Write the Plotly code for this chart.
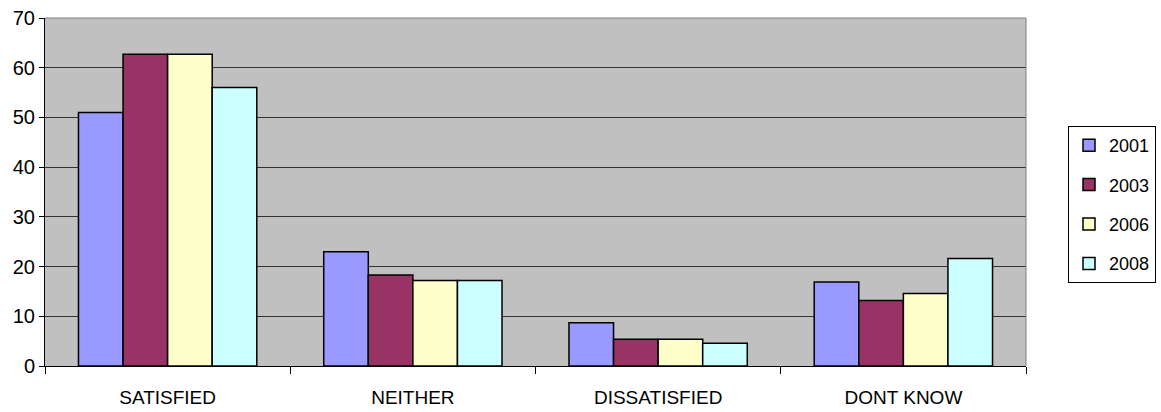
import plotly.graph_objects as go

# Survey responses (percent) by year
categories = ["SATISFIED", "NEITHER", "DISSATISFIED", "DONT KNOW"]
years = ["2001", "2003", "2006", "2008"]
values_2001 = [51.0, 23.0, 8.7, 16.9]
values_2003 = [62.7, 18.3, 5.4, 13.2]
values_2006 = [62.7, 17.2, 5.4, 14.6]
values_2008 = [56.0, 17.2, 4.6, 21.6]
y_ticks = [0, 10, 20, 30, 40, 50, 60, 70]

series = [values_2001, values_2003, values_2006, values_2008]
colors = ["#9999FF", "#993366", "#FFFFCC", "#CCFFFF"]

FONT = "Liberation Sans, Arial, sans-serif"

fig = go.Figure()
for i, (year, vals) in enumerate(zip(years, series)):
    fig.add_trace(go.Bar(
        x=categories,
        y=vals,
        name=year,
        legendgroup=year,
        marker=dict(color=colors[i], line=dict(color="#000000", width=1.5)),
    ))

fig.update_layout(
    width=1161,
    height=412,
    margin=dict(l=45, r=135, t=18, b=46),
    paper_bgcolor="#FFFFFF",
    plot_bgcolor="#C0C0C0",
    barmode="group",
    bargap=0.273,
    bargroupgap=0,
    font=dict(family=FONT, size=19, color="#000000"),
    showlegend=True,
    legend=dict(
        xref="container", yref="container",
        x=1068 / 1161, y=1 - 126 / 412,
        xanchor="left", yanchor="top",
        bgcolor="#FFFFFF",
        bordercolor="#000000",
        borderwidth=1,
        font=dict(family=FONT, size=18, color="#000000"),
        tracegroupgap=13,
    ),
    xaxis=dict(
        type="category",
        automargin=False,
        showgrid=False,
        showline=True,
        linecolor="#000000",
        linewidth=1,
        ticks="outside",
        tickson="boundaries",
        ticklen=7,
        tickcolor="#000000",
        ticklabelstandoff=14,
        tickfont=dict(family=FONT, size=19, color="#000000"),
    ),
    yaxis=dict(
        range=[0, 70],
        automargin=False,
        tickvals=y_ticks,
        showgrid=True,
        gridcolor="#333333",
        gridwidth=1,
        zeroline=False,
        showline=True,
        linecolor="#000000",
        linewidth=1,
        ticks="outside",
        ticklen=5,
        tickcolor="#000000",
        tickfont=dict(family=FONT, size=20, color="#000000"),
    ),
    shapes=[
        dict(type="line", xref="x domain", yref="y domain", x0=0, x1=1, y0=1, y1=1,
             line=dict(color="#808080", width=1), layer="above"),
        dict(type="line", xref="x domain", yref="y domain", x0=1, x1=1, y0=0, y1=1,
             line=dict(color="#808080", width=1), layer="above"),
    ],
)

fig.write_html("out.html")
